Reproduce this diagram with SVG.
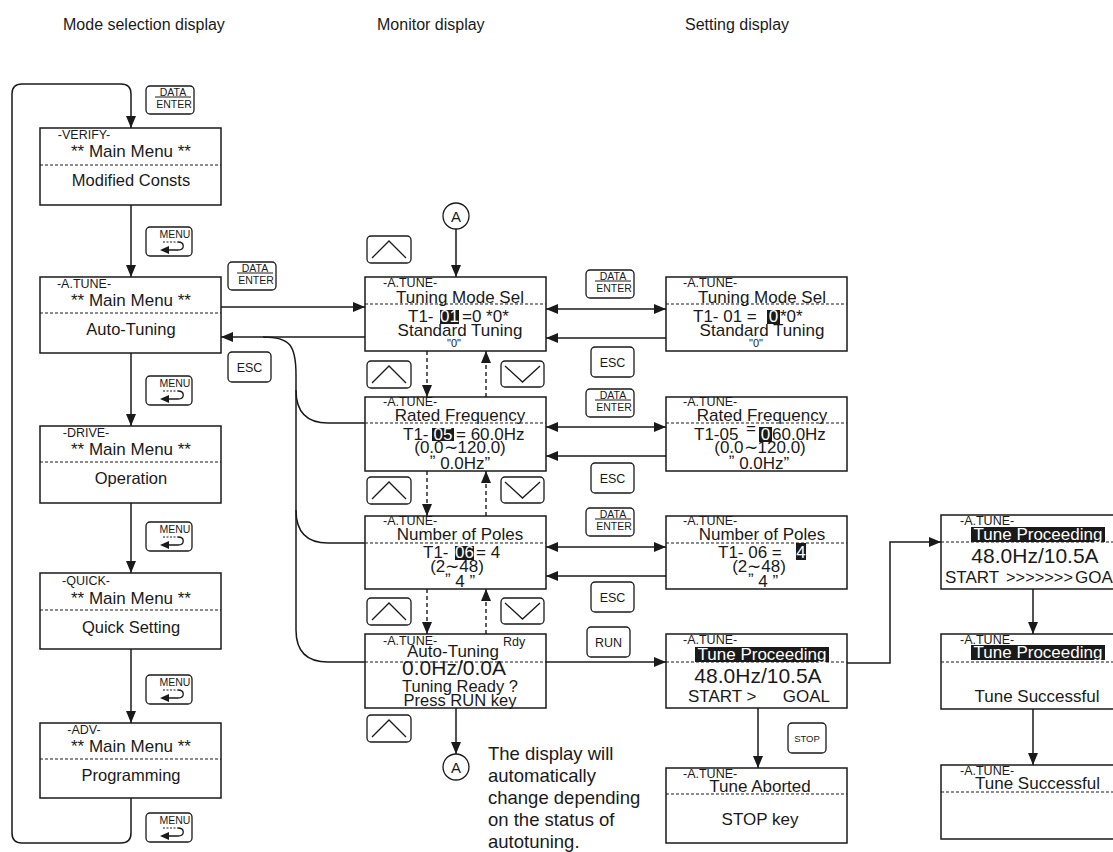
<svg xmlns="http://www.w3.org/2000/svg" width="1113" height="852" viewBox="0 0 1113 852">
<defs>
<style>
text{font-family:"Liberation Sans",Arial,sans-serif;fill:#1a1a1a}
.box{fill:#fff;stroke:#1a1a1a;stroke-width:1.5}
.dash{stroke:#1a1a1a;stroke-width:1.2;stroke-dasharray:3 2;fill:none}
.key{fill:#fff;stroke:#1a1a1a;stroke-width:1.3}
.ln{fill:none;stroke:#1a1a1a;stroke-width:1.5}
.dl{fill:none;stroke:#1a1a1a;stroke-width:1.4;stroke-dasharray:4 3}
.chev{fill:none;stroke:#1a1a1a;stroke-width:1.3}
.hd{font-size:16px}
.lbl{font-size:12.5px}
.t17{font-size:17px}
.t16{font-size:16.5px}
.big{font-size:21px}
.sm{font-size:11px}
.desc{font-size:18.5px}
.m{text-anchor:middle}
.e{text-anchor:end}
.inv{fill:#fff}
.bar{fill:#1a1a1a}
.k10{font-size:10.5px}
.k12{font-size:12.5px}
.k9{font-size:9.5px}
</style>
<marker id="ah" viewBox="0 0 12 10" refX="12" refY="5" markerWidth="12" markerHeight="10" orient="auto-start-reverse" markerUnits="userSpaceOnUse">
<path d="M0,0 L12,5 L0,10 z" fill="#1a1a1a"/>
</marker>
<g id="kData">
<rect class="key" x="0" y="0" width="48" height="28" rx="4"/>
<text class="k10 m" x="27" y="10">DATA</text>
<line x1="9" y1="11" x2="45" y2="11" stroke="#1a1a1a" stroke-width="1"/>
<text class="k10 m" x="28" y="22">ENTER</text>
</g>
<g id="kMenu">
<rect class="key" x="0" y="0" width="46" height="29" rx="4"/>
<text class="k10 m" x="29" y="11">MENU</text>
<line x1="17" y1="15" x2="32" y2="15" stroke="#1a1a1a" stroke-width="1" stroke-dasharray="2 1.5"/>
<path d="M32,15 C39,15 39,23 32,23 L22,23" fill="none" stroke="#1a1a1a" stroke-width="1.3"/>
<path d="M14,23 L23,19 L23,27 z" fill="#1a1a1a"/>
</g>
<g id="kEsc">
<rect class="key" x="0" y="0" width="43" height="30" rx="4"/>
<text class="k12 m" x="21.5" y="20">ESC</text>
</g>
<g id="kUp">
<rect class="key" x="0" y="0" width="44" height="27" rx="4"/>
<polyline class="chev" points="5,22 22,5 39,22"/>
</g>
<g id="kDown">
<rect class="key" x="0" y="0" width="43" height="26" rx="4"/>
<polyline class="chev" points="4,5 21.5,21 39,5"/>
</g>
</defs>
<rect width="1113" height="852" fill="#fff"/>

<g id="headers">
<text class="hd" x="63" y="30">Mode selection display</text>
<text class="hd" x="377" y="30">Monitor display</text>
<text class="hd" x="685" y="30">Setting display</text>
</g>

<g id="connectors">
<path class="ln" d="M131,798 V833 Q131,843 121,843 H22 Q12,843 12,833 V94 Q12,84 22,84 H121 Q131,84 131,94 V128" marker-end="url(#ah)"/>
<path class="ln" d="M131,205 V277" marker-end="url(#ah)"/>
<path class="ln" d="M131,353 V426" marker-end="url(#ah)"/>
<path class="ln" d="M131,503 V573" marker-end="url(#ah)"/>
<path class="ln" d="M131,649 V723" marker-end="url(#ah)"/>
<path class="ln" d="M221,307 H365" marker-end="url(#ah)"/>
<path class="ln" d="M365,337 H221" marker-end="url(#ah)"/>
<path class="ln" d="M263,337 C290,337 296,345 296,375 V630 Q296,662 328,662 H365"/>
<path class="ln" d="M296,390 Q296,423 328,423 H365"/>
<path class="ln" d="M296,510 Q296,543 328,543 H365"/>
<path class="ln" d="M456,229 V277" marker-end="url(#ah)"/>
<path class="dl" d="M427,351 V397" marker-end="url(#ah)"/>
<path class="dl" d="M486,397 V351" marker-end="url(#ah)"/>
<path class="dl" d="M427,471 V516" marker-end="url(#ah)"/>
<path class="dl" d="M486,516 V471" marker-end="url(#ah)"/>
<path class="dl" d="M427,589 V634" marker-end="url(#ah)"/>
<path class="dl" d="M486,634 V589" marker-end="url(#ah)"/>
<path class="ln" d="M546,309 H666" marker-start="url(#ah)" marker-end="url(#ah)"/>
<path class="ln" d="M666,338 H546" marker-end="url(#ah)"/>
<path class="ln" d="M546,427 H666" marker-start="url(#ah)" marker-end="url(#ah)"/>
<path class="ln" d="M666,456 H546" marker-end="url(#ah)"/>
<path class="ln" d="M546,547 H666" marker-start="url(#ah)" marker-end="url(#ah)"/>
<path class="ln" d="M666,576 H546" marker-end="url(#ah)"/>
<path class="ln" d="M546,662 H666" marker-end="url(#ah)"/>
<path class="ln" d="M456,708 V754" marker-end="url(#ah)"/>
<path class="ln" d="M758,708 V768" marker-end="url(#ah)"/>
<path class="ln" d="M847,663 H890 V542 H941" marker-end="url(#ah)"/>
<path class="ln" d="M1033,589 V634" marker-end="url(#ah)"/>
<path class="ln" d="M1033,709 V765" marker-end="url(#ah)"/>
</g>

<g id="keys">
<use href="#kData" x="146" y="86"/>
<use href="#kData" x="228" y="262"/>
<use href="#kData" x="586" y="270"/>
<use href="#kData" x="586" y="389"/>
<use href="#kData" x="586" y="508"/>
<use href="#kMenu" x="146" y="227"/>
<use href="#kMenu" x="146" y="376"/>
<use href="#kMenu" x="146" y="522"/>
<use href="#kMenu" x="146" y="675"/>
<use href="#kMenu" x="146" y="813"/>
<use href="#kEsc" x="228" y="352"/>
<use href="#kEsc" x="591" y="347"/>
<use href="#kEsc" x="591" y="463"/>
<use href="#kEsc" x="591" y="582"/>
<use href="#kUp" x="367" y="236"/>
<use href="#kUp" x="367" y="361"/>
<use href="#kUp" x="367" y="477"/>
<use href="#kUp" x="367" y="598"/>
<use href="#kUp" x="367" y="715"/>
<use href="#kDown" x="501" y="361"/>
<use href="#kDown" x="501" y="477"/>
<use href="#kDown" x="501" y="598"/>
<g id="kRun"><rect class="key" x="587" y="627" width="43" height="30" rx="4"/><text class="k12 m" x="608.5" y="647">RUN</text></g>
<g id="kStop"><rect class="key" x="788" y="723" width="38" height="30" rx="4"/><text class="k9 m" x="807" y="742">STOP</text></g>
</g>

<g id="circleTop">
<circle cx="456" cy="216" r="13" fill="#fff" stroke="#1a1a1a" stroke-width="1.3"/>
<text class="m" x="456" y="221.5" font-size="15">A</text>
</g>
<g id="circleBottom">
<circle cx="456" cy="767" r="13" fill="#fff" stroke="#1a1a1a" stroke-width="1.3"/>
<text class="m" x="456" y="772.5" font-size="15">A</text>
</g>

<!-- Mode selection -->
<g id="mVerify">
<rect class="box" x="40" y="128" width="181" height="77"/>
<line class="dash" x1="40" y1="165" x2="221" y2="165"/>
<text class="lbl m" x="84" y="139">-VERIFY-</text>
<text class="t17 m" x="131" y="157">** Main Menu **</text>
<text class="t16 m" x="131" y="186">Modified Consts</text>
</g>
<g id="mAtune">
<rect class="box" x="40" y="277" width="181" height="76"/>
<line class="dash" x1="40" y1="313" x2="221" y2="313"/>
<text class="lbl m" x="84" y="288">-A.TUNE-</text>
<text class="t17 m" x="131" y="306">** Main Menu **</text>
<text class="t16 m" x="131" y="335">Auto-Tuning</text>
</g>
<g id="mDrive">
<rect class="box" x="40" y="426" width="181" height="77"/>
<line class="dash" x1="40" y1="462" x2="221" y2="462"/>
<text class="lbl m" x="86" y="437">-DRIVE-</text>
<text class="t17 m" x="131" y="455">** Main Menu **</text>
<text class="t16 m" x="131" y="484">Operation</text>
</g>
<g id="mQuick">
<rect class="box" x="40" y="573" width="181" height="76"/>
<line class="dash" x1="40" y1="610" x2="221" y2="610"/>
<text class="lbl m" x="86" y="585">-QUICK-</text>
<text class="t17 m" x="131" y="604">** Main Menu **</text>
<text class="t16 m" x="131" y="633">Quick Setting</text>
</g>
<g id="mAdv">
<rect class="box" x="40" y="723" width="181" height="75"/>
<line class="dash" x1="40" y1="759" x2="221" y2="759"/>
<text class="lbl m" x="84" y="734">-ADV-</text>
<text class="t17 m" x="131" y="752">** Main Menu **</text>
<text class="t16 m" x="131" y="781">Programming</text>
</g>

<!-- Monitor -->
<g id="mon1">
<rect class="box" x="365" y="277" width="181" height="74"/>
<line class="dash" x1="365" y1="304" x2="546" y2="304"/>
<text class="lbl" x="383" y="287">-A.TUNE-</text>
<text class="t17 m" x="460" y="303">Tuning Mode Sel</text>
<text class="t17" x="408" y="322">T1- </text>
<rect class="bar" x="440" y="310" width="19" height="14"/>
<text class="t17 m inv" x="449.5" y="322">01</text>
<text class="t17" x="462" y="322">=0 *0*</text>
<text class="t17 m" x="460" y="336">Standard Tuning</text>
<text class="sm m" x="454" y="347">"0"</text>
</g>
<g id="mon2">
<rect class="box" x="365" y="397" width="181" height="74"/>
<line class="dash" x1="365" y1="423" x2="546" y2="423"/>
<text class="lbl" x="383" y="406">-A.TUNE-</text>
<text class="t17 m" x="460" y="421">Rated Frequency</text>
<text class="t17" x="403" y="440">T1- </text>
<rect class="bar" x="432" y="428" width="22" height="13"/>
<text class="t17 m inv" x="443" y="440">05</text>
<text class="t17" x="456" y="440">= 60.0Hz</text>
<text class="t17 m" x="460" y="453">(0.0∼120.0)</text>
<text class="t17 m" x="460" y="469"><tspan dy="-12">„</tspan><tspan dy="12"> 0.0Hz”</tspan></text>
</g>
<g id="mon3">
<rect class="box" x="365" y="516" width="181" height="73"/>
<line class="dash" x1="365" y1="543" x2="546" y2="543"/>
<text class="lbl" x="383" y="525">-A.TUNE-</text>
<text class="t17 m" x="460" y="540">Number of Poles</text>
<text class="t17" x="423" y="558">T1- </text>
<rect class="bar" x="455" y="546" width="19" height="14"/>
<text class="t17 m inv" x="464.5" y="558">06</text>
<text class="t17" x="476" y="558">= 4</text>
<text class="t17 m" x="457" y="572">(2∼48)</text>
<text class="t17 m" x="460" y="587"><tspan dy="-12">„</tspan><tspan dy="12"> 4 ”</tspan></text>
</g>
<g id="mon4">
<rect class="box" x="365" y="634" width="181" height="74"/>
<line class="dash" x1="365" y1="662" x2="546" y2="662"/>
<text class="lbl" x="383" y="645">-A.TUNE-</text>
<text class="lbl" x="503" y="646">Rdy</text>
<text class="t17 m" x="453" y="657">Auto-Tuning</text>
<text class="big m" x="454" y="675">0.0Hz/0.0A</text>
<text class="t16 m" x="460" y="692">Tuning Ready ?</text>
<text class="t16 m" x="460" y="706">Press RUN key</text>
</g>

<!-- Setting -->
<g id="set1">
<rect class="box" x="666" y="277" width="181" height="74"/>
<line class="dash" x1="666" y1="304" x2="847" y2="304"/>
<text class="lbl" x="683" y="287">-A.TUNE-</text>
<text class="t17 m" x="762" y="303">Tuning Mode Sel</text>
<text class="t17" x="693" y="322">T1-  01 =</text>
<rect class="bar" x="767" y="310" width="13" height="14"/>
<text class="t17 m inv" x="773.5" y="322">0</text>
<text class="t17" x="780" y="322">*0*</text>
<text class="t17 m" x="762" y="336">Standard Tuning</text>
<text class="sm m" x="756" y="347">"0"</text>
</g>
<g id="set2">
<rect class="box" x="666" y="397" width="181" height="74"/>
<line class="dash" x1="666" y1="423" x2="847" y2="423"/>
<text class="lbl" x="683" y="406">-A.TUNE-</text>
<text class="t17 m" x="762" y="421">Rated Frequency</text>
<text class="t17" x="694" y="440">T1-05</text>
<text class="t17" x="746" y="434">=</text>
<rect class="bar" x="759" y="427" width="13" height="15"/>
<text class="t17 m inv" x="765.5" y="440">0</text>
<text class="t17" x="772" y="440">60.0Hz</text>
<text class="t17 m" x="760" y="453">(0.0∼120.0)</text>
<text class="t17 m" x="759" y="469"><tspan dy="-12">„</tspan><tspan dy="12"> 0.0Hz”</tspan></text>
</g>
<g id="set3">
<rect class="box" x="666" y="516" width="181" height="73"/>
<line class="dash" x1="666" y1="543" x2="847" y2="543"/>
<text class="lbl" x="683" y="525">-A.TUNE-</text>
<text class="t17 m" x="762" y="540">Number of Poles</text>
<text class="t17" x="718" y="558">T1-  06 =</text>
<rect class="bar" x="796" y="543" width="10" height="17"/>
<text class="t17 m inv" x="801" y="558">4</text>
<text class="t17 m" x="759" y="572">(2∼48)</text>
<text class="t17 m" x="763" y="587"><tspan dy="-12">„</tspan><tspan dy="12"> 4 ”</tspan></text>
</g>
<g id="set4">
<rect class="box" x="666" y="634" width="181" height="74"/>
<line class="dash" x1="666" y1="662" x2="847" y2="662"/>
<text class="lbl" x="683" y="644">-A.TUNE-</text>
<rect class="bar" x="695" y="647" width="134" height="15"/>
<text class="t17 m inv" x="762" y="660">Tune Proceeding</text>
<text class="big m" x="758" y="683">48.0Hz/10.5A</text>
<text class="t17" x="688" y="702">START &gt;</text>
<text class="t17 e" x="830" y="702">GOAL</text>
</g>
<g id="setAbort">
<rect class="box" x="666" y="768" width="181" height="75"/>
<line class="dash" x1="666" y1="794" x2="847" y2="794"/>
<text class="lbl" x="683" y="778">-A.TUNE-</text>
<text class="t17 m" x="760" y="792">Tune Aborted</text>
<text class="t17 m" x="760" y="825">STOP key</text>
</g>

<!-- Right column -->
<g id="r1">
<rect class="box" x="941" y="515" width="181" height="74"/>
<line class="dash" x1="941" y1="542" x2="1122" y2="542"/>
<text class="lbl" x="960" y="525">-A.TUNE-</text>
<rect class="bar" x="971" y="527" width="134" height="15"/>
<text class="t17 m inv" x="1038" y="540">Tune Proceeding</text>
<text class="big m" x="1035" y="563">48.0Hz/10.5A</text>
<text class="t17" x="945" y="583">START</text>
<text class="t17" x="1006" y="583" textLength="67" lengthAdjust="spacingAndGlyphs">&gt;&gt;&gt;&gt;&gt;&gt;&gt;</text>
<text class="t17" x="1075" y="583">GOAL</text>
</g>
<g id="r2">
<rect class="box" x="941" y="634" width="181" height="75"/>
<line class="dash" x1="941" y1="662" x2="1122" y2="662"/>
<text class="lbl" x="960" y="644">-A.TUNE-</text>
<rect class="bar" x="971" y="645" width="134" height="15"/>
<text class="t17 m inv" x="1038" y="658">Tune Proceeding</text>
<text class="t17 m" x="1037" y="702">Tune Successful</text>
</g>
<g id="r3">
<rect class="box" x="941" y="765" width="181" height="74"/>
<line class="dash" x1="941" y1="792" x2="1122" y2="792"/>
<text class="lbl" x="960" y="775">-A.TUNE-</text>
<text class="t17" x="975" y="789">Tune Successful</text>
</g>

<g id="note">
<text class="desc" x="488" y="760">The display will</text>
<text class="desc" x="488" y="782">automatically</text>
<text class="desc" x="488" y="804">change depending</text>
<text class="desc" x="488" y="826">on the status of</text>
<text class="desc" x="488" y="848">autotuning.</text>
</g>
</svg>
